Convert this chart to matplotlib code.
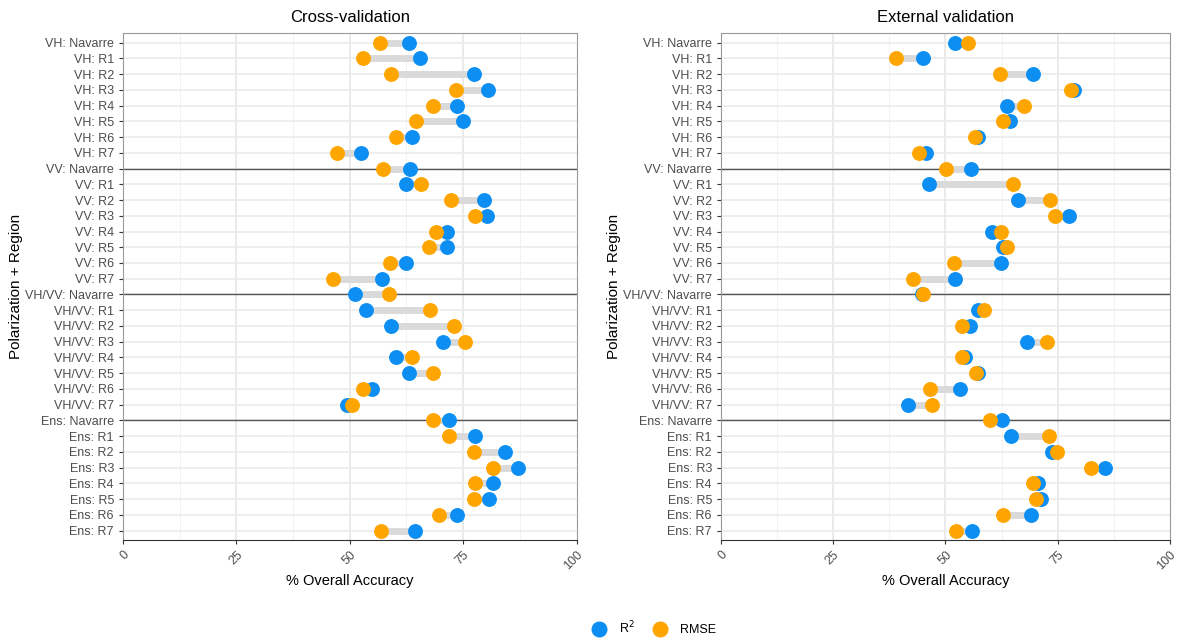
import numpy as np
import matplotlib
matplotlib.use('Agg')
from matplotlib import pyplot as plt
from matplotlib.lines import Line2D

plt.rcParams['font.family'] = ['Liberation Sans', 'DejaVu Sans']

regions = ['Navarre', 'R1', 'R2', 'R3', 'R4', 'R5', 'R6', 'R7']
groups = ['VH', 'VV', 'VH/VV', 'Ens']
labels = [g + ': ' + r for g in groups for r in regions]

# cross-validation (% overall accuracy)
cv_r2 = [63.0, 65.5, 77.3, 80.5, 73.7, 74.9, 63.7, 52.4,
         63.2, 62.5, 79.6, 80.2, 71.5, 71.4, 62.5, 57.1,
         51.1, 53.5, 59.2, 70.5, 60.2, 63.0, 54.9, 49.4,
         71.8, 77.7, 84.3, 87.0, 81.5, 80.7, 73.7, 64.3]
cv_rmse = [56.6, 53.0, 59.1, 73.5, 68.4, 64.7, 60.3, 47.1,
           57.4, 65.7, 72.4, 77.6, 69.1, 67.5, 58.8, 46.2,
           58.7, 67.8, 72.9, 75.3, 63.8, 68.3, 53.0, 50.5,
           68.4, 71.8, 77.3, 81.6, 77.7, 77.5, 69.7, 56.8]

# external validation
ev_r2 = [52.2, 45.0, 69.5, 78.7, 63.7, 64.4, 57.3, 45.7,
         55.6, 46.3, 66.1, 77.6, 60.3, 62.9, 62.3, 52.1,
         44.8, 57.2, 55.4, 68.1, 54.4, 57.3, 53.2, 41.6,
         62.5, 64.6, 73.8, 85.5, 70.5, 71.2, 69.1, 55.9]
ev_rmse = [55.1, 39.0, 62.2, 78.0, 67.5, 62.8, 56.5, 44.1,
           50.2, 65.0, 73.2, 74.3, 62.4, 63.7, 51.8, 42.8,
           44.9, 58.5, 53.7, 72.7, 53.7, 56.7, 46.6, 47.1,
           60.0, 73.0, 74.9, 82.5, 69.5, 70.2, 62.8, 52.4]

blue = '#0d8ef2'
orange = '#ffa500'


def dumbbell(ax, title, r2, rmse):
    y = np.arange(len(labels))
    ax.set_xlim(0, 100)
    ax.set_ylim(len(labels) - 0.4, -0.6)
    for v in np.arange(12.5, 100, 25):
        ax.axvline(v, color='#f0f0f0', lw=0.6, zorder=0)
    for v in [25, 50, 75]:
        ax.axvline(v, color='#e6e6e6', lw=1.2, zorder=0)
    for yy in y:
        ax.axhline(yy, color='#ebebeb', lw=1.2, zorder=0)
    for g in range(1, len(groups)):
        ax.axhline(g * len(regions), color='#555555', lw=1.0, zorder=1)
    ax.hlines(y, r2, rmse, color='#dadada', lw=5, zorder=2)
    ax.scatter(r2, y, s=115, color=blue, zorder=3, linewidths=0)
    ax.scatter(rmse, y, s=115, color=orange, zorder=4, linewidths=0)
    ax.set_yticks(y)
    ax.set_yticklabels(labels, fontsize=9, color='#4d4d4d')
    ax.set_xticks([0, 25, 50, 75, 100])
    ax.set_xticklabels(['0', '25', '50', '75', '100'], rotation=45,
                       fontsize=9, color='#4d4d4d', ha='right', va='top',
                       rotation_mode='anchor')
    ax.tick_params(axis='both', length=3, color='#333333', width=0.8)
    for s in ['top', 'right', 'left']:
        ax.spines[s].set_color('#999999')
        ax.spines[s].set_linewidth(0.8)
    ax.spines['bottom'].set_color('#333333')
    ax.spines['bottom'].set_linewidth(0.8)
    ax.set_title(title, fontsize=12, pad=8)
    ax.set_xlabel('% Overall Accuracy', fontsize=10.5, labelpad=1)
    ax.set_ylabel('Polarization + Region', fontsize=11, labelpad=2)


fig = plt.figure(figsize=(11.8, 6.39), dpi=100)
ax1 = fig.add_axes([0.1042, 0.155, 0.3844, 0.793])
ax2 = fig.add_axes([0.6110, 0.155, 0.3805, 0.793])
dumbbell(ax1, 'Cross-validation', cv_r2, cv_rmse)
dumbbell(ax2, 'External validation', ev_r2, ev_rmse)

handles = [Line2D([], [], marker='o', ls='', color=blue, markersize=10.5),
           Line2D([], [], marker='o', ls='', color=orange, markersize=10.5)]
fig.legend(handles, ['R$^2$', 'RMSE'], loc='center', ncol=2,
           bbox_to_anchor=(0.552, 0.017), frameon=False, fontsize=9,
           handletextpad=0.6, columnspacing=1.0)

fig.savefig('out.png', dpi=100)
